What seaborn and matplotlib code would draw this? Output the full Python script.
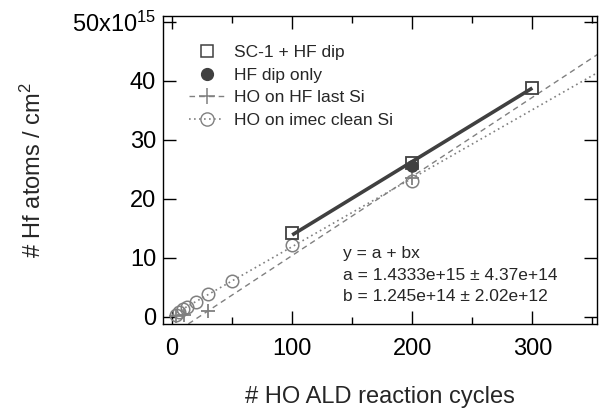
import numpy as np
import pandas as pd
import matplotlib
matplotlib.use("Agg")
import matplotlib.pyplot as plt
from matplotlib.lines import Line2D
from matplotlib.ticker import MultipleLocator
import seaborn as sns

# data (y in units of 1e15 Hf atoms / cm^2)
sc1_x = [100, 200, 300]
sc1_y = [14.2, 26.1, 38.8]
hfdip_x = [200]
hfdip_y = [25.6]
hflast_x = [3, 10, 30, 200]
hflast_y = [0.2, 0.3, 1.0, 23.5]
imec_x = [3, 6, 9, 12, 20, 30, 50, 100, 200]
imec_y = [0.3, 0.9, 1.3, 1.6, 2.6, 3.8, 6.1, 12.2, 23.0]

# linear fits y = a + b x  (a, b, x range)
sc1_fit = (1.4333, 0.1245, [100, 300])
hflast_fit = (-3.0, 0.134, [0, 360])
imec_fit = (0.3, 0.116, [0, 360])

y_ticks = [0, 10, 20, 30, 40, 50]
y_ticklabels = ["0", "10", "20", "30", "40", "50x10$^{15}$"]
x_ticks = [0, 100, 200, 300]

sns.set_theme(style="ticks")
plt.rcParams["font.family"] = ["Liberation Sans", "DejaVu Sans"]
plt.rcParams["mathtext.fontset"] = "custom"
plt.rcParams["mathtext.rm"] = "Liberation Sans"
plt.rcParams["mathtext.it"] = "Liberation Sans:italic"

dark = "#404040"
grey = "#808080"

fig = plt.figure(figsize=(6.02, 4.09), dpi=100)
ax = fig.add_axes([0.271, 0.208, 0.721, 0.753])

def fit_frame(fit):
    a, b, xr = fit
    xs = np.array(xr, dtype=float)
    return pd.DataFrame({"x": xs, "y": a + b * xs})

# fit lines
sns.lineplot(data=fit_frame(hflast_fit), x="x", y="y", ax=ax, color=grey,
             lw=1.0, linestyle=(0, (4, 3)))
sns.lineplot(data=fit_frame(imec_fit), x="x", y="y", ax=ax, color=grey,
             lw=1.2, linestyle=(0, (1, 2)))
sns.lineplot(data=fit_frame(sc1_fit), x="x", y="y", ax=ax, color=dark,
             lw=2.6, solid_capstyle="butt")

# markers
ax.plot(imec_x, imec_y, ls="none", marker="o", ms=9, mfc="none", mec=grey, mew=1.1)
ax.plot(hflast_x, hflast_y, ls="none", marker="+", ms=10, mec=grey, mew=1.3)
ax.plot(hfdip_x, hfdip_y, ls="none", marker="o", ms=8, mfc=dark, mec=dark)
ax.plot(sc1_x, sc1_y, ls="none", marker="s", ms=8, mfc="none", mec=dark, mew=1.3)

ax.set_xlim(-7.5, 354)
ax.set_ylim(-1.2, 51)
ax.set_xticks(x_ticks)
ax.xaxis.set_minor_locator(MultipleLocator(50))
ax.set_yticks(y_ticks)
ax.set_yticklabels(y_ticklabels)
ax.tick_params(which="both", direction="in", top=True, right=True,
               width=1.0, color="black", labelsize=17, labelcolor="black")
ax.tick_params(which="major", length=9.5)
ax.tick_params(which="minor", length=5)
ax.tick_params(axis="x", pad=10)
ax.tick_params(axis="y", pad=5)
for s in ax.spines.values():
    s.set_visible(True)
    s.set_linewidth(1.0)
    s.set_color("black")

ax.set_xlabel("# HO ALD reaction cycles", fontsize=17, labelpad=19)
ax.set_ylabel("# Hf atoms / cm$^2$", fontsize=17)
ax.yaxis.set_label_coords(-0.27, 0.5)

handles = [
    Line2D([], [], ls="none", marker="s", ms=8, mfc="none", mec=dark, mew=1.1),
    Line2D([], [], ls="none", marker="o", ms=8.5, mfc=dark, mec=dark),
    Line2D([], [], color=grey, lw=1.0, ls=(0, (4, 3)), marker="+", ms=11, mew=1.1),
    Line2D([], [], color=grey, lw=1.2, ls=(0, (1, 2)), marker="o", ms=9.5, mfc="none", mew=1.0),
]
labels = ["SC-1 + HF dip", "HF dip only", "HO on HF last Si", "HO on imec clean Si"]
ax.legend(handles, labels, loc="upper left", bbox_to_anchor=(0.06, 0.905),
          frameon=False, fontsize=12.5, handlelength=2.0, handletextpad=0.6,
          labelspacing=0.42, borderpad=0, borderaxespad=0)

fit_lines = ["y = a + bx", "a = 1.4333e+15 \u00b1 4.37e+14", "b = 1.245e+14 \u00b1 2.02e+12"]
for txt, yy in zip(fit_lines, [0.229, 0.157, 0.090]):
    ax.text(0.415, yy, txt, transform=ax.transAxes, fontsize=12.5, va="center", ha="left")

fig.savefig("out.png", dpi=100)
